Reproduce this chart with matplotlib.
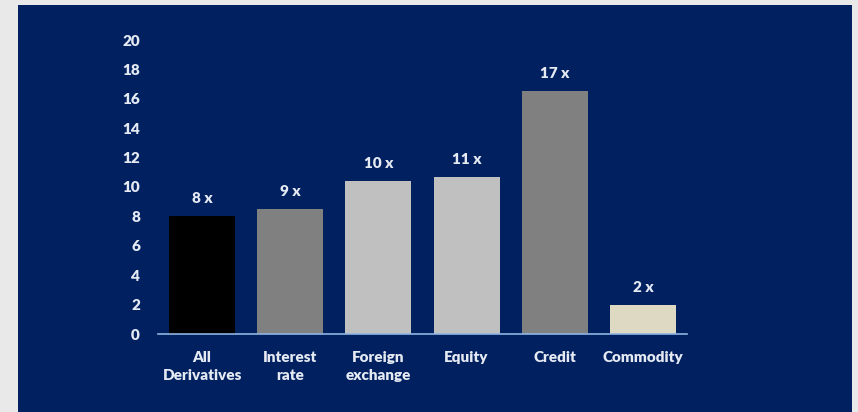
import matplotlib.pyplot as plt

# -------------------------
# DATA
# -------------------------
categories = ["All\nDerivatives", "Interest\nrate", "Foreign\nexchange", "Equity", "Credit", "Commodity"]
values = [8.0, 8.5, 10.4, 10.7, 16.5, 2.0]
bar_labels = ["8 x", "9 x", "10 x", "11 x", "17 x", "2 x"]
bar_colors = ["#000000", "#808080", "#C0C0C0", "#C0C0C0", "#808080", "#DDD9C3"]
yticks = [0, 2, 4, 6, 8, 10, 12, 14, 16, 18, 20]

NAVY = "#002060"
TEXT = "#E4E9F2"
FS = 11
WEIGHT = "heavy"

plt.rcParams["font.family"] = ["Lato", "DejaVu Sans"]

fig = plt.figure(figsize=(8.58, 4.12), dpi=100, facecolor="#E9E9E9")

# navy panel behind the chart
bg = fig.add_axes([18 / 858, 0, (852 - 18) / 858, (412 - 5) / 412], zorder=-1)
bg.set_facecolor(NAVY)
bg.set_xticks([])
bg.set_yticks([])
for s in bg.spines.values():
    s.set_visible(False)

ax = fig.add_axes([158 / 858, 78 / 412, (687 - 158) / 858, (334 - 40) / 412])
ax.set_facecolor("none")

x = range(len(categories))
bars = ax.bar(x, values, width=0.75, color=bar_colors, zorder=2)

for b, lab in zip(bars, bar_labels):
    ax.text(b.get_x() + b.get_width() / 2, b.get_height() + 0.75, lab,
            ha="center", va="bottom", color=TEXT, fontsize=FS, fontweight=WEIGHT)

ax.set_xlim(-0.5, len(categories) - 0.5)
ax.set_ylim(0, 20)
ax.set_yticks(yticks)
ax.set_xticks(list(x))
ax.set_xticklabels(categories)

for s in ["top", "right", "left"]:
    ax.spines[s].set_visible(False)
ax.spines["bottom"].set_color("#8EB4E3")
ax.spines["bottom"].set_linewidth(1.2)

ax.tick_params(axis="both", length=0, colors=TEXT, labelsize=FS)
ax.tick_params(axis="y", pad=13)
ax.tick_params(axis="x", pad=12)
for t in ax.get_xticklabels() + ax.get_yticklabels():
    t.set_fontweight(WEIGHT)
    t.set_linespacing(1.5)

fig.savefig("out.png", dpi=100, facecolor=fig.get_facecolor())
